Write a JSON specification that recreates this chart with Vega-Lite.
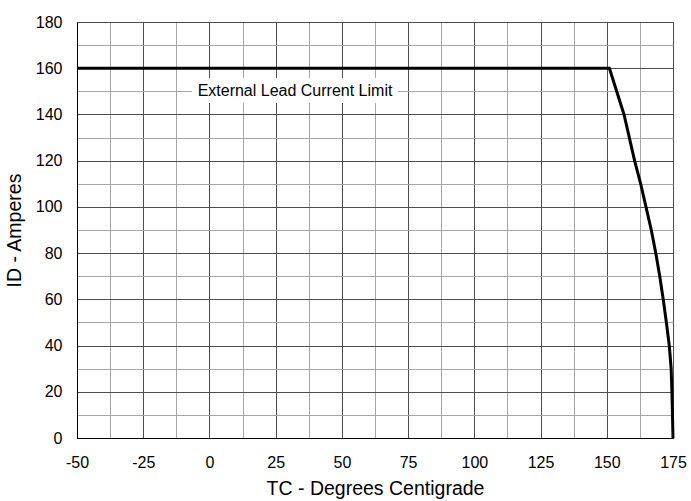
{
  "$schema": "https://vega.github.io/schema/vega-lite/v6.json",
  "width": 596,
  "height": 416,
  "autosize": {"type": "none"},
  "padding": {"left": 77, "top": 22, "right": 18, "bottom": 63},
  "background": "white",
  "title": {
    "text": "Fig 9. Maximum Drain Current Vs. Case Temperature",
    "font": "Liberation Sans",
    "fontSize": 16.6,
    "fontWeight": "bold",
    "color": "black",
    "anchor": "middle",
    "dx": -12,
    "offset": 24,
    "baseline": "alphabetic"
  },
  "config": {
    "view": {"stroke": "black", "strokeWidth": 1},
    "font": "Liberation Sans",
    "axis": {
      "domainColor": "black",
      "tickColor": "black",
      "labelColor": "black",
      "titleColor": "black",
      "titleFontWeight": "normal",
      "labelFont": "Liberation Sans",
      "titleFont": "Liberation Sans",
      "labelFontSize": 16,
      "titleFontSize": 19.5,
      "tickSize": 6,
      "labelOverlap": false,
      "labelFlush": false,
      "gridOpacity": 1
    },
    "axisX": {
      "titlePadding": 9,
      "labelPadding": 10,
      "labelExpr": "datum.value % 25 === 0 ? '' + datum.value : ''",
      "tickOpacity": {"condition": {"test": "datum.value % 25 === 0", "value": 1}, "value": 0},
      "gridColor": {"condition": {"test": "datum.value % 25 === 0", "value": "#4d4d4d"}, "value": "#a6a6a6"}
    },
    "axisY": {
      "titlePadding": 11,
      "labelPadding": 9,
      "labelExpr": "datum.value % 20 === 0 ? '' + datum.value : ''",
      "tickOpacity": {"condition": {"test": "datum.value % 20 === 0", "value": 1}, "value": 0},
      "gridColor": {"condition": {"test": "datum.value % 20 === 0", "value": "#4d4d4d"}, "value": "#a6a6a6"}
    }
  },
  "datasets": {
    "curve": [
      {"tc": -50, "id": 160},
      {"tc": 151, "id": 160},
      {"tc": 156.5, "id": 140},
      {"tc": 160.5, "id": 120},
      {"tc": 162.8, "id": 110},
      {"tc": 164.8, "id": 100},
      {"tc": 166.8, "id": 90},
      {"tc": 168.5, "id": 80},
      {"tc": 170, "id": 70},
      {"tc": 171.3, "id": 60},
      {"tc": 172.5, "id": 50},
      {"tc": 173.6, "id": 40},
      {"tc": 174.3, "id": 30},
      {"tc": 174.6, "id": 20},
      {"tc": 174.8, "id": 10},
      {"tc": 175, "id": 0}
    ],
    "note": [
      {"label": "External Lead Current Limit", "tc": 32.3, "id": 150.3, "tc0": -6.6, "tc1": 71.2, "id0": 145, "id1": 155.8}
    ]
  },
  "layer": [
    {
      "data": {"name": "curve"},
      "mark": {"type": "line", "color": "black", "strokeWidth": 3},
      "encoding": {
        "x": {
          "field": "tc",
          "type": "quantitative",
          "title": "TC - Degrees Centigrade",
          "scale": {"domain": [-50, 175], "nice": false, "zero": false},
          "axis": {"values": [-50, -37.5, -25, -12.5, 0, 12.5, 25, 37.5, 50, 62.5, 75, 87.5, 100, 112.5, 125, 137.5, 150, 162.5, 175]}
        },
        "y": {
          "field": "id",
          "type": "quantitative",
          "title": "ID - Amperes",
          "scale": {"domain": [0, 180], "nice": false},
          "axis": {"values": [0, 10, 20, 30, 40, 50, 60, 70, 80, 90, 100, 110, 120, 130, 140, 150, 160, 170, 180]}
        }
      }
    },
    {
      "data": {"name": "note"},
      "mark": {"type": "rect", "fill": "white"},
      "encoding": {
        "x": {
          "field": "tc0",
          "type": "quantitative",
          "title": "TC - Degrees Centigrade",
          "axis": {"values": [-50, -37.5, -25, -12.5, 0, 12.5, 25, 37.5, 50, 62.5, 75, 87.5, 100, 112.5, 125, 137.5, 150, 162.5, 175]}
        },
        "x2": {"field": "tc1"},
        "y": {
          "field": "id0",
          "type": "quantitative",
          "title": "ID - Amperes",
          "axis": {"values": [0, 10, 20, 30, 40, 50, 60, 70, 80, 90, 100, 110, 120, 130, 140, 150, 160, 170, 180]}
        },
        "y2": {"field": "id1"}
      }
    },
    {
      "data": {"name": "note"},
      "mark": {"type": "text", "color": "black", "fontSize": 16, "font": "Liberation Sans", "baseline": "middle", "align": "center"},
      "encoding": {
        "x": {
          "field": "tc",
          "type": "quantitative",
          "title": "TC - Degrees Centigrade",
          "axis": {"values": [-50, -37.5, -25, -12.5, 0, 12.5, 25, 37.5, 50, 62.5, 75, 87.5, 100, 112.5, 125, 137.5, 150, 162.5, 175]}
        },
        "y": {
          "field": "id",
          "type": "quantitative",
          "title": "ID - Amperes",
          "axis": {"values": [0, 10, 20, 30, 40, 50, 60, 70, 80, 90, 100, 110, 120, 130, 140, 150, 160, 170, 180]}
        },
        "text": {"field": "label"}
      }
    }
  ]
}
